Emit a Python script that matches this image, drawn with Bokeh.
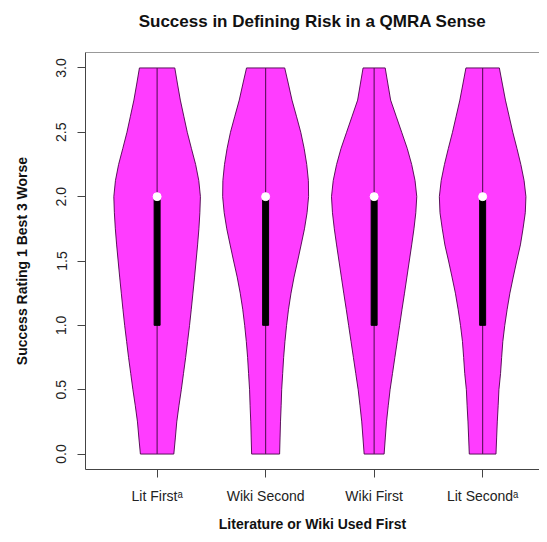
from bokeh.plotting import figure
from bokeh.models import ColumnDataSource, FixedTicker, LinearAxis, Range1d
from bokeh.embed import file_html
from bokeh.resources import INLINE

# ---- data ----
categories = ["Lit Firstᵃ", "Wiki Second", "Wiki First", "Lit Secondᵃ"]
positions = [1, 2, 3, 4]

# density outline: y levels and half-widths (x units) for each group
y_grid = [0.0, 0.125, 0.25, 0.375, 0.5, 0.625, 0.75, 0.875, 1.0, 1.125, 1.25, 1.375, 1.5,
          1.625, 1.75, 1.875, 2.0, 2.125, 2.25, 2.375, 2.5, 2.625, 2.75, 2.875, 3.0]
half_lit_first = [0.154, 0.168, 0.181, 0.201, 0.223, 0.243, 0.263, 0.281, 0.299, 0.315, 0.330, 0.345, 0.359,
                  0.373, 0.385, 0.394, 0.399, 0.384, 0.355, 0.316, 0.278, 0.246, 0.214, 0.188, 0.163]
half_wiki_second = [0.129, 0.133, 0.137, 0.143, 0.148, 0.157, 0.166, 0.178, 0.193, 0.211, 0.234, 0.262, 0.295,
                    0.327, 0.358, 0.382, 0.396, 0.394, 0.379, 0.355, 0.324, 0.284, 0.243, 0.210, 0.176]
half_wiki_first = [0.092, 0.103, 0.114, 0.130, 0.147, 0.169, 0.191, 0.213, 0.235, 0.257, 0.280, 0.302, 0.324,
                   0.346, 0.367, 0.384, 0.393, 0.377, 0.346, 0.305, 0.254, 0.203, 0.152, 0.127, 0.102]
half_lit_second = [0.123, 0.129, 0.135, 0.143, 0.150, 0.165, 0.175, 0.186, 0.204, 0.226, 0.251, 0.282, 0.314,
                   0.348, 0.372, 0.393, 0.399, 0.382, 0.352, 0.316, 0.278, 0.244, 0.210, 0.182, 0.154]

minimum = [0, 0, 0, 0]
q1 = [1, 1, 1, 1]
median = [2, 2, 2, 2]
q3 = [2, 2, 2, 2]
maximum = [3, 3, 3, 3]

y_ticks = [0, 0.5, 1.0, 1.5, 2.0, 2.5, 3.0]
y_tick_labels = ["0.0", "0.5", "1.0", "1.5", "2.0", "2.5", "3.0"]

title_text = "Success in Defining Risk in a QMRA Sense"
x_title = "Literature or Wiki Used First"
y_title = "Success Rating 1 Best 3 Worse"

FONT = "Liberation Sans"
FILL = "#FF3CFF"
W, H = 539, 534

# ---- build violin polygons ----
halves = [half_lit_first, half_wiki_second, half_wiki_first, half_lit_second]
xs, ys = [], []
for pos, hw in zip(positions, halves):
    right_x = [pos + w for w in hw]
    left_x = [pos - w for w in reversed(hw)]
    xs.append(right_x + left_x)
    ys.append(list(y_grid) + list(reversed(y_grid)))
violins = ColumnDataSource(dict(xs=xs, ys=ys))
stats = ColumnDataSource(dict(x=positions, lo=minimum, q1=q1, med=median, q3=q3, hi=maximum))

p = figure(width=W, height=H, output_backend="svg", toolbar_location=None,
           x_range=Range1d(0.34, 4.524), y_range=Range1d(-0.12, 3.12),
           min_border_left=85, min_border_right=0, min_border_top=52, min_border_bottom=65)

p.grid.visible = False
p.outline_line_color = None
p.background_fill_color = "white"
p.border_fill_color = "white"

p.patches("xs", "ys", source=violins, fill_color=FILL, line_color="#4a004a", line_width=0.9)
p.segment(x0="x", y0="lo", x1="x", y1="hi", source=stats, line_color="#5a105a", line_width=1.1)
p.vbar(x="x", bottom="q1", top="q3", width=0.055, source=stats, fill_color="black", line_color="black")
p.scatter("x", "med", source=stats, size=8, fill_color="white", line_color="white")

# axes
xa = p.xaxis[0]
xa.ticker = FixedTicker(ticks=positions)
xa.major_label_overrides = {pos: lab for pos, lab in zip(positions, categories)}
xa.axis_label = x_title
ya = p.yaxis[0]
ya.ticker = FixedTicker(ticks=y_ticks)
ya.major_label_overrides = {t: lab for t, lab in zip(y_ticks, y_tick_labels)}
ya.major_label_orientation = "vertical"
ya.axis_label = y_title

for ax in (xa, ya):
    ax.minor_tick_line_color = None
    ax.major_tick_in = 0
    ax.major_tick_out = 8
    ax.major_tick_line_color = "#444444"
    ax.axis_line_color = "#444444"
    ax.major_label_text_font = FONT
    ax.major_label_text_font_size = "14px"
    ax.major_label_text_color = "#222222"
    ax.axis_label_text_font = FONT
    ax.axis_label_text_font_size = "14px"
    ax.axis_label_text_font_style = "bold"
    ax.axis_label_text_color = "#111111"
xa.major_label_standoff = 10
xa.axis_label_standoff = 9
ya.major_label_standoff = 11
ya.axis_label_standoff = 24

# top frame line, carrying the main title above the plot box
top = LinearAxis(ticker=FixedTicker(ticks=[]), axis_line_color="#999999",
                 major_tick_line_color=None, minor_tick_line_color=None,
                 axis_label=title_text, axis_label_standoff=22,
                 axis_label_text_font=FONT, axis_label_text_font_size="17px",
                 axis_label_text_font_style="bold", axis_label_text_color="#111111")
p.add_layout(top, "above")

open("out.html", "w").write(file_html(p, INLINE))
